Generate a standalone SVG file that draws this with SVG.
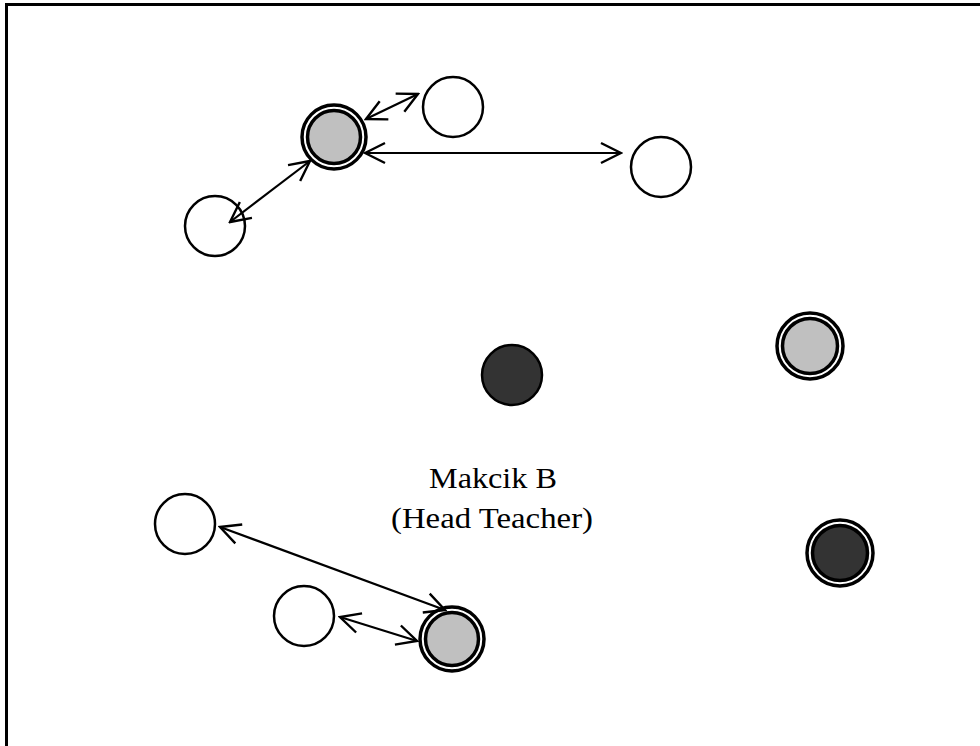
<svg xmlns="http://www.w3.org/2000/svg" width="980" height="746" viewBox="0 0 980 746">
  <style>
    .plain { fill: #ffffff; stroke: #000; stroke-width: 2.5; }
    .ring { fill: #ffffff; stroke: #000; stroke-width: 3.5; }
    .grey { fill: #c0c0c0; stroke: #000; stroke-width: 3.5; }
    .dark { fill: #333333; stroke: #000; stroke-width: 2.5; }
    .darkin { fill: #333333; stroke: #000; stroke-width: 3.5; }
    .link { fill: none; stroke: #000; stroke-width: 2.2; marker-start: url(#head); marker-end: url(#head); }
    .label { font-family: "Liberation Serif", "Times New Roman", serif; font-size: 29px; fill: #000; text-anchor: middle; }
  </style>
  <defs>
    <!-- open V arrowhead, reused at both ends -->
    <marker id="head" viewBox="0 0 24 24" refX="22" refY="12" markerWidth="24" markerHeight="24" markerUnits="userSpaceOnUse" orient="auto-start-reverse">
      <path d="M2,2 L22,12 L2,22" fill="none" stroke="#000" stroke-width="2.4"/>
    </marker>
  </defs>

  <rect width="980" height="746" fill="#ffffff"/>
  <!-- frame -->
  <path d="M6.5,746 V4.5 H980" fill="none" stroke="#000" stroke-width="3"/>

  <g id="n-top-grey">
    <circle class="ring" cx="334" cy="137" r="32"/>
    <circle class="grey" cx="334" cy="137" r="26.5"/>
  </g>
  <g id="n-top-white">
    <circle class="plain" cx="453" cy="107" r="30"/>
  </g>
  <g id="n-right-white">
    <circle class="plain" cx="661" cy="167" r="30"/>
  </g>
  <g id="n-left-white">
    <circle class="plain" cx="215" cy="226" r="30"/>
  </g>
  <g id="n-centre-dark">
    <circle class="dark" cx="512" cy="375" r="30"/>
  </g>
  <g id="n-right-grey">
    <circle class="ring" cx="810" cy="346" r="33"/>
    <circle class="grey" cx="810" cy="346" r="27.5"/>
  </g>
  <g id="n-right-dark">
    <circle class="ring" cx="840" cy="553" r="33"/>
    <circle class="darkin" cx="840" cy="553" r="27.5"/>
  </g>
  <g id="n-low-white">
    <circle class="plain" cx="185" cy="524" r="30"/>
  </g>
  <g id="n-small-white">
    <circle class="plain" cx="304" cy="616" r="30"/>
  </g>
  <g id="n-bottom-grey">
    <circle class="ring" cx="452" cy="639" r="32"/>
    <circle class="grey" cx="452" cy="639" r="26.5"/>
  </g>

  <g id="connectors">
    <line class="link" x1="366" y1="119" x2="418" y2="94"/>
    <line class="link" x1="365" y1="153" x2="621" y2="153"/>
    <line class="link" x1="310" y1="161" x2="230" y2="222"/>
    <line class="link" x1="220" y1="527" x2="445" y2="610"/>
    <line class="link" x1="340" y1="617" x2="417" y2="641"/>
  </g>

  <g id="label-head-teacher">
    <text class="label" x="493" y="488" textLength="128" lengthAdjust="spacingAndGlyphs">Makcik B</text>
    <text class="label" x="492" y="528" textLength="202" lengthAdjust="spacingAndGlyphs">(Head Teacher)</text>
  </g>
</svg>
